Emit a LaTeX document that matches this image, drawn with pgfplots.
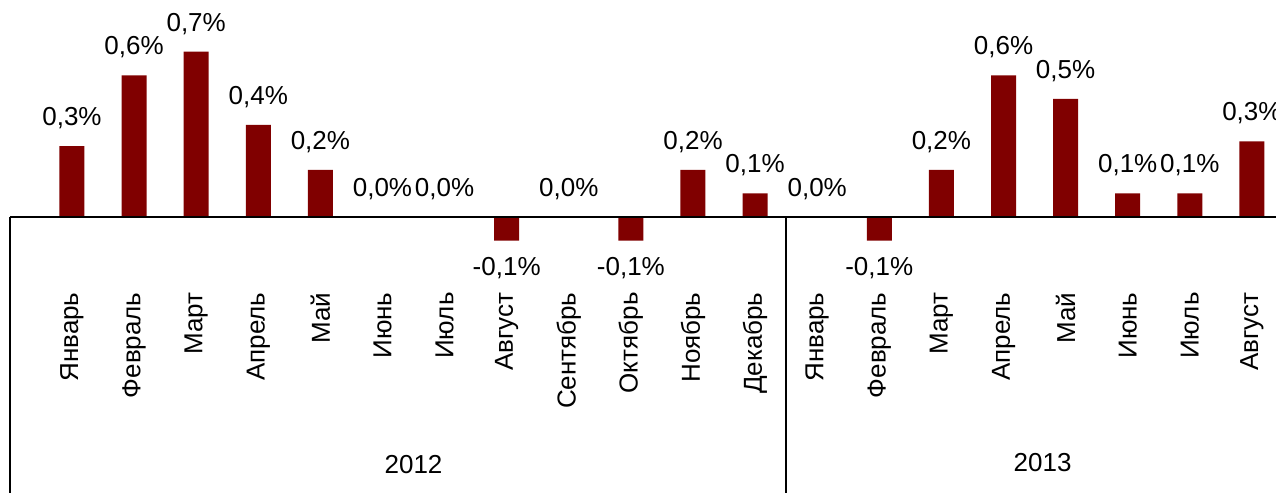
\documentclass[border=0pt]{standalone}
\usepackage{pgfplots}
\pgfplotsset{compat=1.18}
\usepackage{pgfplotstable}
\usepackage{fontspec}
\setmainfont{Liberation Sans}
\definecolor{barred}{RGB}{128,0,0}

% positive and zero values
\pgfplotstableread{
x y
0 0.30
1 0.60
2 0.70
3 0.39
4 0.20
5 0.00
6 0.00
8 0.00
10 0.20
11 0.10
12 0.00
14 0.20
15 0.60
16 0.50
17 0.10
18 0.10
19 0.32
}\posdata
% negative values
\pgfplotstableread{
x y
7 -0.10
9 -0.10
13 -0.10
}\negdata

\begin{document}
\begin{tikzpicture}[font=\fontsize{13}{15}\selectfont,
  month/.style={rotate=90, anchor=east, inner sep=0pt}]
\begin{axis}[
  scale only axis,
  width=638pt, height=246.5pt,
  xmin=-1.159, xmax=19.388,
  ymin=-1.169, ymax=0.919,
  axis lines=none,
  ybar, bar width=12.5pt, bar shift=0pt,
  point meta=y,
  nodes near coords={\pgfmathprintnumber[fixed,fixed zerofill,precision=1,use comma,assume math mode=true]{\pgfplotspointmeta}\%},
  clip=false,
]
\addplot[fill=barred, draw=none,
  nodes near coords style={anchor=center, yshift=14pt, text=black}]
  table {\posdata};
\addplot[fill=barred, draw=none,
  nodes near coords style={anchor=center, yshift=-13.5pt, text=black}]
  table {\negdata};

\draw[line width=0.9pt] (axis cs:-1,0) -- (axis cs:19.388,0);
\draw[line width=1.2pt] (axis cs:-1,0) -- (axis cs:-1,-1.169);
\draw[line width=0.75pt] (axis cs:11.5,0) -- (axis cs:11.5,-1.169);

\node[month] at (axis cs:0,-0.318) {Январь};
\node[month] at (axis cs:1,-0.318) {Февраль};
\node[month] at (axis cs:2,-0.318) {Март};
\node[month] at (axis cs:3,-0.318) {Апрель};
\node[month] at (axis cs:4,-0.318) {Май};
\node[month] at (axis cs:5,-0.318) {Июнь};
\node[month] at (axis cs:6,-0.318) {Июль};
\node[month] at (axis cs:7,-0.318) {Август};
\node[month] at (axis cs:8,-0.318) {Сентябрь};
\node[month] at (axis cs:9,-0.318) {Октябрь};
\node[month] at (axis cs:10,-0.318) {Ноябрь};
\node[month] at (axis cs:11,-0.318) {Декабрь};
\node[month] at (axis cs:12,-0.318) {Январь};
\node[month] at (axis cs:13,-0.318) {Февраль};
\node[month] at (axis cs:14,-0.318) {Март};
\node[month] at (axis cs:15,-0.318) {Апрель};
\node[month] at (axis cs:16,-0.318) {Май};
\node[month] at (axis cs:17,-0.318) {Июнь};
\node[month] at (axis cs:18,-0.318) {Июль};
\node[month] at (axis cs:19,-0.318) {Август};

\node at (axis cs:5.5,-1.05) {2012};
\node at (axis cs:15.63,-1.04) {2013};
\end{axis}
\pgfresetboundingbox
\path[use as bounding box] (current axis.south west) rectangle (current axis.north east);
\end{tikzpicture}
\end{document}
